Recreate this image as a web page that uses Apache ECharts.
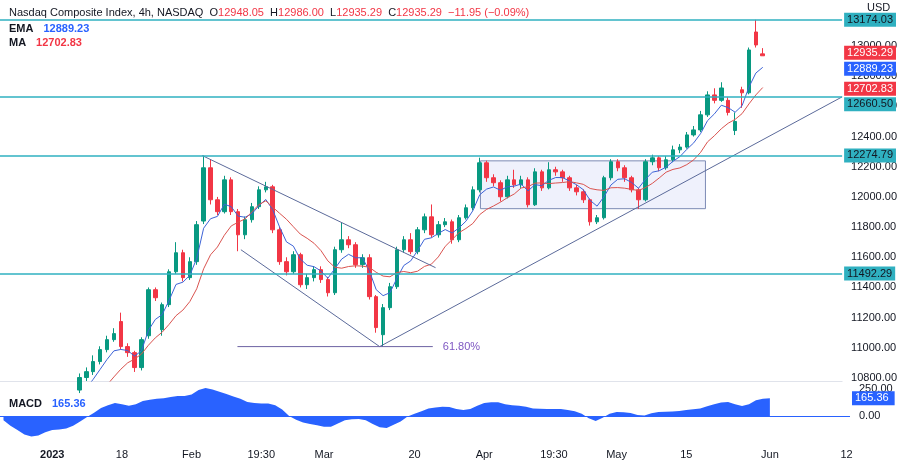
<!DOCTYPE html>
<html><head><meta charset="utf-8">
<script src="https://cdn.jsdelivr.net/npm/echarts@6/dist/echarts.min.js"></script>
<style>html,body{margin:0;padding:0;background:#fff}#c{width:900px;height:461px}</style>
</head><body><div id="c"></div>
<script>
const opens  = [10700,10650,10600,10560,10520,10480,10520,10560,10500,10540,10620,10720,10803,10842,10909,10988,11054,11174,11008,10968,10869,11080,11385,11120,11286,11504,11630,11465,11571,11840,12193,11981,11902,12113,11902,11749,11849,11935,12047,12067,11782,11571,11504,11617,11418,11465,11518,11452,11365,11650,11716,11683,11551,11597,11339,11087,11266,11405,11650,11716,11637,11782,11868,11749,11816,11835,11716,11862,11928,12047,12226,12127,12094,12001,12113,12080,12113,11948,12166,12060,12180,12166,12127,12060,12034,11981,11835,11862,12127,12233,12193,12127,12047,11981,12233,12259,12193,12246,12312,12330,12411,12444,12544,12676,12640,12640,12440,12710,12690,13093,12948];
const closes = [10650,10600,10560,10520,10480,10520,10560,10500,10540,10620,10720,10803,10842,10909,10988,11054,11094,11008,10968,10869,11054,11385,11332,11286,11504,11630,11465,11571,11816,12193,11981,11902,12113,11902,11749,11849,11935,12047,12067,11782,11571,11504,11617,11418,11465,11518,11452,11365,11650,11716,11683,11551,11597,11339,11134,11266,11405,11650,11716,11637,11782,11868,11749,11816,11835,11716,11862,11928,12047,12226,12127,12094,12001,12113,12080,12113,11948,12166,12060,12180,12166,12127,12060,12034,11981,11835,11862,12127,12233,12193,12127,12047,11981,12233,12259,12193,12246,12312,12330,12411,12444,12544,12676,12640,12722,12560,12500,12690,12974,13007,12935.29];
const highs  = [10720,10670,10630,10590,10550,10550,10590,10580,10570,10650,10740,10830,10870,10950,11010,11080,11130,11233,11030,10980,11070,11400,11400,11300,11520,11700,11650,11600,11840,12274,12250,12000,12140,12130,11920,11870,11960,12070,12100,12080,11800,11600,11640,11630,11490,11540,11540,11470,11670,11830,11740,11700,11620,11620,11350,11290,11430,11670,11740,11760,11800,11890,11950,11840,11860,11850,11880,11950,12070,12260,12240,12150,12110,12140,12180,12140,12130,12190,12180,12230,12200,12180,12140,12080,12050,11990,11880,12140,12250,12250,12210,12140,12060,12250,12280,12270,12270,12340,12350,12430,12470,12570,12700,12720,12760,12660,12560,12730,12990,13174,12986];
const lows   = [10620,10570,10530,10490,10450,10460,10500,10470,10480,10520,10600,10700,10780,10820,10890,10970,11040,10990,10940,10840,10850,11060,11310,11080,11270,11490,11440,11450,11550,11820,11950,11880,11890,11880,11640,11720,11830,11920,12030,11760,11550,11480,11490,11400,11390,11440,11430,11340,11350,11630,11660,11530,11530,11320,11100,11008,11250,11390,11630,11620,11620,11760,11730,11730,11800,11690,11700,11850,11910,12030,12100,12070,11970,11990,12060,12060,11930,11940,12040,12050,12140,12100,12040,12010,11960,11810,11820,11850,12110,12170,12100,12030,11920,11970,12210,12170,12180,12230,12290,12320,12400,12430,12530,12620,12630,12540,12410,12590,12680,12990,12935];
const macdValues = [-40,-90,-130,-170,-190,-180,-150,-130,-125,-115,-90,-50,-10,30,75,100,120,110,95,110,140,150,160,165,175,185,185,200,240,260,245,225,205,180,160,130,120,115,115,100,60,0,-35,-60,-75,-85,-100,-100,-70,-40,-30,-28,-40,-75,-105,-110,-80,-50,-5,20,45,70,80,85,83,65,55,65,95,120,128,128,110,100,95,85,70,68,66,65,66,55,45,20,-20,-45,-15,20,37,35,28,10,5,25,38,40,42,46,55,62,70,90,110,125,130,110,93,110,145,160,165.36];
const levelLines = [13174.03,12660.50,12274.79,11492.29];
const header = {open:'12948.05', high:'12986.00', low:'12935.29', close:'12935.29', change:'−11.95 (−0.09%)'};
const emaLast = 12889.23, maLast = 12702.83, lastClose = 12935.29;
const priceTicks = [10800,11000,11200,11400,11600,11800,12000,12200,12400,12600,12800,13000];
const macdTicks = [0,250];
const tickIdx  = [7,17,27,37,46,59,69,79,88,98,110,121];
const tickText = ['2023','18','Feb','19:30','Mar','20','Apr','19:30','May','15','Jun','12'];
// drawings [x index, price]
const channelUpper = [[28.8,12274],[62.6,11531]];
const channelLower = [[34.4,11650],[54.5,11008]];
const fibLine = [[33.9,11008],[62.2,11008]];
const riseLine = [[54.5,11008],[121.5,12663]];
const rangeBox = [[69.1,12239],[101.7,11922]];

const N = 122;
const categories = Array.from({length:N},(_,i)=>'b'+i);
const candles = opens.map((o,i)=>[o,closes[i],lows[i],highs[i]]);
function ema(p){let out=[],k=2/(p+1),e=null;closes.forEach((c,i)=>{e=e===null?c:c*k+e*(1-k);out.push(i<p-1?null:+e.toFixed(2));});return out;}
function sma(p){return closes.map((c,i)=>{if(i<p-1)return null;let s=0;for(let j=i-p+1;j<=i;j++)s+=closes[j];return +(s/p).toFixed(2);});}
const emaLine = ema(5), maLine = sma(10);

const teal='#2fb0c0', up='#089981', down='#f23645', blue='#2962ff', slate='#5b6a9a';
const font='Liberation Sans';
const chart = echarts.init(document.getElementById('c'));
function tag(v,bg,fg,off){return {yAxis:v,lineStyle:{color:'rgba(0,0,0,0)',width:0},label:{show:true,position:'end',distance:2,formatter:v.toFixed(2),backgroundColor:bg,color:fg,padding:[2,3,1,3],fontSize:11,fontFamily:font,offset:[0,off||0]}};}
const tickMap = {}; tickIdx.forEach((t,i)=>tickMap[t]=tickText[i]);
chart.setOption({
  animation:false,
  textStyle:{fontFamily:font},
  title:[
    {left:4,top:2,text:'{n|Nasdaq Composite Index, 4h, NASDAQ}  {k|O}{v|'+header.open+'}  {k|H}{v|'+header.high+'}  {k|L}{v|'+header.low+'}  {k|C}{v|'+header.close+'}  {v|'+header.change+'}',
     textStyle:{fontSize:11,fontWeight:'normal',rich:{n:{color:'#131722',fontSize:11,fontFamily:font},k:{color:'#131722',fontSize:11,fontFamily:font},v:{color:down,fontSize:11,fontFamily:font}}}},
    {left:4,top:15,text:'{k|EMA}  {b|'+emaLast.toFixed(2)+'}',textStyle:{rich:{k:{color:'#131722',fontSize:11,fontFamily:font},b:{color:blue,fontSize:11,fontFamily:font}}}},
    {left:4,top:29,text:'{k|MA}  {r|'+maLast.toFixed(2)+'}',textStyle:{rich:{k:{color:'#131722',fontSize:11,fontFamily:font},r:{color:down,fontSize:11,fontFamily:font}}}},
    {left:4,top:390,text:'{k|MACD}  {b|'+macdValues[macdValues.length-1].toFixed(2)+'}',textStyle:{rich:{k:{color:'#131722',fontSize:11,fontFamily:font},b:{color:blue,fontSize:11,fontFamily:font}}}},
    {left:862,top:-3,text:'USD',textStyle:{fontSize:11,fontWeight:'normal',color:'#131722',fontFamily:font}}
  ],
  grid:[{left:0,right:50,top:0,height:381},{left:0,right:50,top:382,height:58}],
  xAxis:[
    {type:'category',data:categories,gridIndex:0,boundaryGap:true,axisLabel:{show:false},axisTick:{show:false},axisLine:{show:true,lineStyle:{color:'#e0e3eb'}},splitLine:{show:false}},
    {type:'value',gridIndex:0,min:-0.5,max:N-0.5,show:false},
    {type:'category',data:categories,gridIndex:1,boundaryGap:true,axisLine:{show:false},axisTick:{show:false},splitLine:{show:false},
     axisLabel:{interval:(i)=>tickMap[i]!==undefined,formatter:(v,i)=>i===7?'{b|2023}':tickMap[i],color:'#131722',fontSize:11,margin:9,rich:{b:{fontWeight:'bold',fontSize:11,color:'#131722'}}}}
  ],
  yAxis:[
    {type:'value',gridIndex:0,position:'right',min:10780,max:13305,splitLine:{show:false},axisLine:{show:false},axisTick:{show:false},
     axisLabel:{customValues:priceTicks,formatter:v=>v.toFixed(2),color:'#131722',fontSize:11,margin:9}},
    {type:'value',gridIndex:1,position:'right',min:-222,max:315,splitLine:{show:false},axisLine:{show:false},axisTick:{show:false},
     axisLabel:{customValues:macdTicks,formatter:v=>v.toFixed(2),color:'#131722',fontSize:11,margin:9}}
  ],
  series:[
    {type:'candlestick',xAxisIndex:0,yAxisIndex:0,data:candles,barWidth:4,
     itemStyle:{color:up,color0:down,borderColor:up,borderColor0:down,borderWidth:1},
     markLine:{silent:true,symbol:['none','none'],animation:false,data:[
       ...levelLines.map(v=>({yAxis:v,lineStyle:{color:teal,width:1.6,type:'solid'},label:{show:true,position:'end',distance:2,formatter:v.toFixed(2),backgroundColor:teal,color:'#131722',padding:[2,3,1,3],fontSize:11,fontFamily:font,offset:[0,v===12660.50?7:0]}})),
       tag(lastClose,down,'#fff',-3), tag(emaLast,blue,'#fff',6), tag(maLast,down,'#fff',-2)
     ]}},
    {type:'line',xAxisIndex:0,yAxisIndex:0,data:emaLine,showSymbol:false,lineStyle:{color:'#3d63d6',width:1},z:3},
    {type:'line',xAxisIndex:0,yAxisIndex:0,data:maLine,showSymbol:false,lineStyle:{color:'#d9534f',width:1},z:3},
    {type:'line',xAxisIndex:1,yAxisIndex:0,data:channelUpper,showSymbol:false,lineStyle:{color:slate,width:1}},
    {type:'line',xAxisIndex:1,yAxisIndex:0,data:channelLower,showSymbol:false,lineStyle:{color:slate,width:1}},
    {type:'line',xAxisIndex:1,yAxisIndex:0,data:riseLine,showSymbol:false,lineStyle:{color:slate,width:1}},
    {type:'line',xAxisIndex:1,yAxisIndex:0,data:fibLine,showSymbol:false,lineStyle:{color:'#6d63a3',width:1},
     endLabel:{show:true,formatter:'61.80%',color:'#7e57c2',fontSize:11,distance:10}},
    {type:'line',xAxisIndex:1,yAxisIndex:0,data:[],z:1,
     markArea:{silent:true,itemStyle:{color:'rgba(120,140,230,0.12)',borderColor:'#7d8bb5',borderWidth:1},
       data:[[{coord:rangeBox[0]},{coord:rangeBox[1]}]]}},
    {type:'line',xAxisIndex:2,yAxisIndex:1,data:macdValues,showSymbol:false,lineStyle:{width:0},areaStyle:{color:blue,opacity:1},
     markLine:{silent:true,symbol:['none','none'],data:[{yAxis:0,lineStyle:{color:blue,width:1,type:'solid'},label:{show:false}},
       {yAxis:macdValues[macdValues.length-1],lineStyle:{color:'rgba(0,0,0,0)',width:0},label:{show:true,position:'end',distance:2,formatter:macdValues[macdValues.length-1].toFixed(2),backgroundColor:blue,color:'#fff',padding:[2,6,1,3],fontSize:11,fontFamily:font}}]}}
  ]
});
</script></body></html>
